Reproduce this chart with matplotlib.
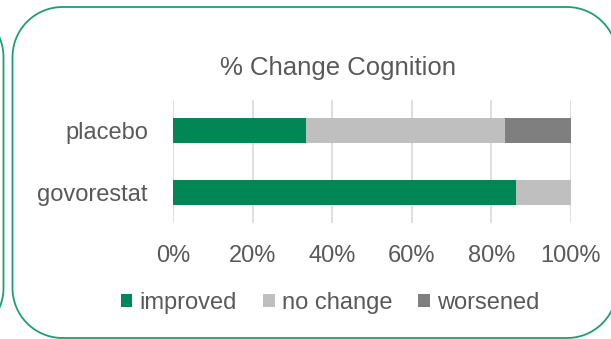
import numpy as np
import matplotlib.pyplot as plt
from matplotlib.patches import PathPatch
from matplotlib.path import Path
from matplotlib.transforms import Affine2D

plt.rcParams['font.family'] = ['Liberation Sans', 'DejaVu Sans']

groups = ['govorestat', 'placebo']
improved = [86.2, 33.3]
no_change = [13.8, 50.0]
worsened = [0.0, 16.7]
series_names = ['improved', 'no change', 'worsened']
series_colors = ['#008755', '#BFBFBF', '#7F7F7F']
ticks = [0, 20, 40, 60, 80, 100]

W, H = 611, 339
text_color = '#595959'
border_color = '#1F9E6F'


def rounded_rect(x0, y0, x1, y1, r):
    # closed outline with circular corners
    pts = []
    corners = [(x1 - r, y0 + r, -90), (x1 - r, y1 - r, 0),
               (x0 + r, y1 - r, 90), (x0 + r, y0 + r, 180)]
    for cx, cy, a in corners:
        t = np.radians(np.linspace(a, a + 90, 24))
        pts.extend(zip(cx + r * np.cos(t), cy + r * np.sin(t)))
    pts.append(pts[0])
    return Path(pts, closed=True)


fig = plt.figure(figsize=(W / 100, H / 100), dpi=100)
px = Affine2D().scale(1 / W, 1 / H) + fig.transFigure

# card outlines (pixel units, y up)
for x0, x1 in [(-470, 3.5), (12.5, 617)]:
    card = PathPatch(rounded_rect(x0, 1, x1, H - 7, 50), transform=px,
                     fill=False, edgecolor=border_color, linewidth=1.3)
    fig.patches.append(card)

ax = fig.add_axes([173 / W, 1 - 223 / H, (571 - 173) / W, (223 - 100) / H])

left = [0, 0]
for name, vals, col in zip(series_names, [improved, no_change, worsened], series_colors):
    ax.barh(groups, vals, left=left, height=0.4, color=col, label=name, zorder=3)
    left = [l + v for l, v in zip(left, vals)]

ax.set_xlim(0, 100)
ax.set_ylim(-0.5, 1.5)
ax.set_xticks(ticks)
ax.set_xticklabels([f'{t}%' for t in ticks])
ax.grid(axis='x', color='#D9D9D9', linewidth=1.2, zorder=0)
ax.set_axisbelow(True)
for s in ax.spines.values():
    s.set_visible(False)
ax.tick_params(axis='x', length=0, pad=15.5, labelsize=17, labelcolor=text_color)
ax.tick_params(axis='y', length=0, pad=18, labelsize=17, labelcolor=text_color)

fig.text(338 / W, 1 - 68 / H, '% Change Cognition', ha='center', va='center',
         fontsize=18.5, color=text_color)

leg = ax.legend(loc='center', bbox_to_anchor=(330 / W, 1 - 303 / H),
                bbox_transform=fig.transFigure, ncol=3, frameon=False,
                fontsize=17, handlelength=0.5, handleheight=0.5,
                handletextpad=0.3, columnspacing=1.1, borderpad=0)
for t in leg.get_texts():
    t.set_color(text_color)

fig.savefig('out.png', dpi=100)
